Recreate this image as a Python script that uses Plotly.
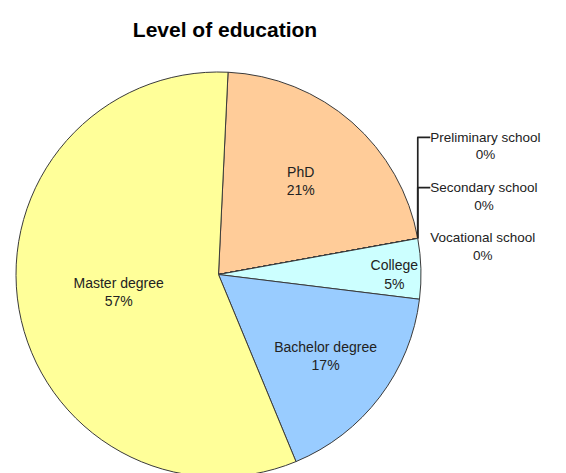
import plotly.graph_objects as go

labels = ["PhD", "Vocational school", "Secondary school", "Preliminary school",
          "College", "Bachelor degree", "Master degree"]
values = [21.4, 0, 0, 0, 4.8, 16.8, 57.0]
colors = ["#FFCC99", "#9999FF", "#993366", "#FFFFCC", "#CCFFFF", "#99CCFF", "#FFFF99"]
textpos = ["inside" if v > 0 else "outside" for v in values]
templates = ["%{label}<br>%{percent:.0%}" if v > 0 else " <br>%{label}<br>%{percent:.0%}"
             for v in values]

W, H = 566, 473
fig = go.Figure(go.Pie(
    labels=labels, values=values, sort=False, direction="clockwise", rotation=2.7,
    marker=dict(colors=colors, line=dict(color="#3a3a3a", width=1)),
    texttemplate=templates, textposition=textpos,
    insidetextorientation="horizontal",
    insidetextfont=dict(family="Arial, Liberation Sans", size=14, color="#222222"),
    outsidetextfont=dict(family="Arial, Liberation Sans", size=13.5, color="#222222"),
    showlegend=False, hoverinfo="label+percent",
))
fig.update_layout(
    width=W, height=H,
    margin=dict(l=8, r=153, t=64, b=4, autoexpand=False),
    paper_bgcolor="white", plot_bgcolor="white",
    title=dict(text="<b>Level of education</b>", x=217 / W, xanchor="center",
               y=1 - 22 / H, yanchor="middle",
               font=dict(family="Arial, Liberation Sans", size=21, color="black")),
)
fig.write_html("out.html")
